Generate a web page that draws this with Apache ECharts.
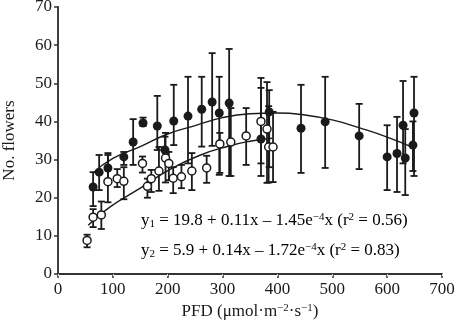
<!DOCTYPE html>
<html>
<head>
<meta charset="utf-8">
<script src="https://cdn.jsdelivr.net/npm/echarts@6/dist/echarts.min.js"></script>
<style>
  html, body { margin: 0; padding: 0; background: #fff; }
  #chart { width: 457px; height: 323px; }
</style>
</head>
<body>
<div id="chart"></div>
<script>
// ====== data ======
// filled circles (y1), with error bar low / high
const blackX    = [64, 75, 91, 120, 137, 155, 181, 195, 211, 237, 262, 281, 294, 312, 370, 385, 443, 487, 549, 600, 618, 629, 633, 647, 649];
const blackY    = [22.8, 26.7, 27.8, 30.7, 34.6, 39.6, 38.8, 32.5, 40.1, 41.4, 43.2, 45.1, 42.2, 44.8, 35.4, 42.5, 38.2, 39.9, 36.2, 30.7, 31.6, 39.0, 30.4, 33.8, 42.2];
const blackLow  = [17.8, 22.0, 23.9, 28.6, 28.6, 38.8, 32.5, 30.4, 33.8, 29.0, 33.4, 33.6, 26.0, 25.7, 25.7, 28.0, 26.5, 27.8, 27.5, 22.0, 21.5, 29.0, 20.7, 27.0, 25.7];
const blackHigh = [26.7, 31.2, 31.7, 32.0, 40.6, 41.0, 46.7, 36.0, 49.6, 51.7, 51.7, 57.9, 51.7, 59.0, 48.8, 48.2, 49.6, 51.7, 44.6, 39.0, 41.2, 50.6, 38.0, 40.0, 51.7];

// open circles (y2)
const whiteX    = [53, 64, 79, 91, 108, 120, 154, 163, 170, 184, 196, 202, 210, 225, 244, 271, 295, 315, 343, 370, 381, 384, 392];
const whiteY    = [8.8, 14.9, 15.5, 24.2, 25.0, 24.3, 29.0, 23.0, 25.0, 27.0, 30.4, 29.0, 25.1, 25.5, 27.0, 27.8, 34.1, 34.6, 36.2, 40.0, 38.0, 33.3, 33.3];
const whiteLow  = [7.0, 12.3, 11.8, 18.8, 22.8, 19.6, 26.6, 20.0, 21.5, 21.8, 24.0, 24.6, 21.2, 22.5, 22.0, 23.9, 26.5, 25.7, 28.6, 29.0, 23.9, 24.0, 24.1];
const whiteHigh = [10.3, 17.0, 19.0, 31.2, 27.5, 28.0, 30.8, 25.0, 27.3, 33.3, 37.0, 32.0, 28.0, 28.6, 31.7, 31.0, 37.0, 43.5, 43.5, 51.4, 50.3, 44.0, 42.5];

// fitted curves, as drawn
const fit1X = [64, 100, 150, 200, 250, 300, 350, 400, 450, 500, 550, 600, 650];
const fit1Y = [26.5, 30.3, 33.4, 36.7, 38.9, 41.0, 42.0, 42.2, 41.7, 40.4, 38.3, 35.9, 33.0];
const fit2X = [55, 95, 150, 205, 260, 310, 350, 390];
const fit2Y = [12.8, 17.6, 22.5, 27.5, 31.2, 33.5, 34.8, 35.6];

const zip = (...cols) => cols[0].map((_, i) => cols.map(c => c[i]));

const FONT = "'Liberation Serif', 'DejaVu Serif', serif";
const INK = "#1a1a1a";

const chart = echarts.init(document.getElementById("chart"));

// ====== error bar renderer ======
function errorBars(params, api) {
  const x = api.value(0);
  const top = api.coord([x, api.value(2)]);
  const bot = api.coord([x, api.value(1)]);
  const w = 3.5;
  const style = { stroke: INK, lineWidth: 1.8 };
  return {
    type: "group",
    children: [
      { type: "line", shape: { x1: top[0], y1: top[1], x2: bot[0], y2: bot[1] }, style },
      { type: "line", shape: { x1: top[0] - w, y1: top[1], x2: top[0] + w, y2: top[1] }, style },
      { type: "line", shape: { x1: bot[0] - w, y1: bot[1], x2: bot[0] + w, y2: bot[1] }, style }
    ]
  };
}

const eqRich = {
  t: { fontFamily: FONT, fontSize: 17, color: INK },
  sub: { fontFamily: FONT, fontSize: 11, color: INK, padding: [7, 0, 0, 0] },
  sup: { fontFamily: FONT, fontSize: 11, color: INK, padding: [0, 0, 7, 0] }
};

const option = {
  backgroundColor: "#fff",
  animation: false,
  grid: { left: 58, right: 15, top: 7, bottom: 49, outerBoundsMode: "none" },
  xAxis: [{
    type: "value", min: 0, max: 700, interval: 100,
    name: "{t|PFD (μmol·m}{sup|−2}{t|·s}{sup|−1}{t|)}",
    nameLocation: "middle", nameGap: 28,
    nameTextStyle: { rich: eqRich },
    axisLine: { lineStyle: { color: "#333", width: 2 } },
    axisTick: { show: true, length: 4, lineStyle: { color: "#333", width: 1.5 } },
    axisLabel: { fontFamily: FONT, fontSize: 17, color: INK, margin: 7 },
    splitLine: { show: false }
  }, {
    type: "value", min: 0, max: 700, interval: 100, position: "top",
    axisLine: { show: false },
    axisTick: { show: true, inside: true, length: 2, lineStyle: { color: "#ddd" } },
    axisLabel: { show: false }, splitLine: { show: false }
  }],
  yAxis: [{
    type: "value", min: 0, max: 70, interval: 10,
    name: "No. flowers", nameLocation: "middle", nameGap: 40, nameRotate: 90,
    nameTextStyle: { fontFamily: FONT, fontSize: 17, color: INK },
    axisLine: { show: true, lineStyle: { color: "#333", width: 2 } },
    axisTick: { show: true, length: 4, lineStyle: { color: "#333", width: 1.5 } },
    axisLabel: { fontFamily: FONT, fontSize: 17, color: INK, margin: 6 },
    splitLine: { show: false }
  }, {
    type: "value", min: 0, max: 70, interval: 10, position: "right",
    axisLine: { show: true, lineStyle: { color: "#444", width: 1.5 } },
    axisTick: { show: false }, axisLabel: { show: false }, splitLine: { show: false }
  }],
  graphic: [
    {
      type: "text", left: 141, top: 212,
      style: {
        text: "{t|y}{sub|1}{t| = 19.8 + 0.11x – 1.45e}{sup|−4}{t|x (r}{sup|2}{t| = 0.56)}",
        rich: eqRich
      }
    },
    {
      type: "text", left: 141, top: 242,
      style: {
        text: "{t|y}{sub|2}{t| = 5.9 + 0.14x – 1.72e}{sup|−4}{t|x (r}{sup|2}{t| = 0.83)}",
        rich: eqRich
      }
    }
  ],
  series: [
    {
      name: "fit1", type: "line", smooth: true, symbol: "none",
      lineStyle: { color: INK, width: 1.4 },
      data: zip(fit1X, fit1Y), z: 2
    },
    {
      name: "fit2", type: "line", smooth: true, symbol: "none",
      lineStyle: { color: INK, width: 1.4 },
      data: zip(fit2X, fit2Y), z: 2
    },
    {
      name: "err1", type: "custom", renderItem: errorBars,
      encode: { x: 0, y: [1, 2] },
      data: zip(blackX, blackLow, blackHigh), z: 3
    },
    {
      name: "err2", type: "custom", renderItem: errorBars,
      encode: { x: 0, y: [1, 2] },
      data: zip(whiteX, whiteLow, whiteHigh), z: 3
    },
    {
      name: "y1", type: "scatter", symbol: "circle", symbolSize: 9,
      itemStyle: { color: INK, opacity: 1 },
      data: zip(blackX, blackY), z: 5
    },
    {
      name: "y2", type: "scatter", symbol: "circle", symbolSize: 8,
      itemStyle: { color: "#fff", borderColor: INK, borderWidth: 1.5, opacity: 1 },
      data: zip(whiteX, whiteY), z: 6
    }
  ]
};

chart.setOption(option);
window.addEventListener("resize", () => chart.resize());
</script>
</body>
</html>
